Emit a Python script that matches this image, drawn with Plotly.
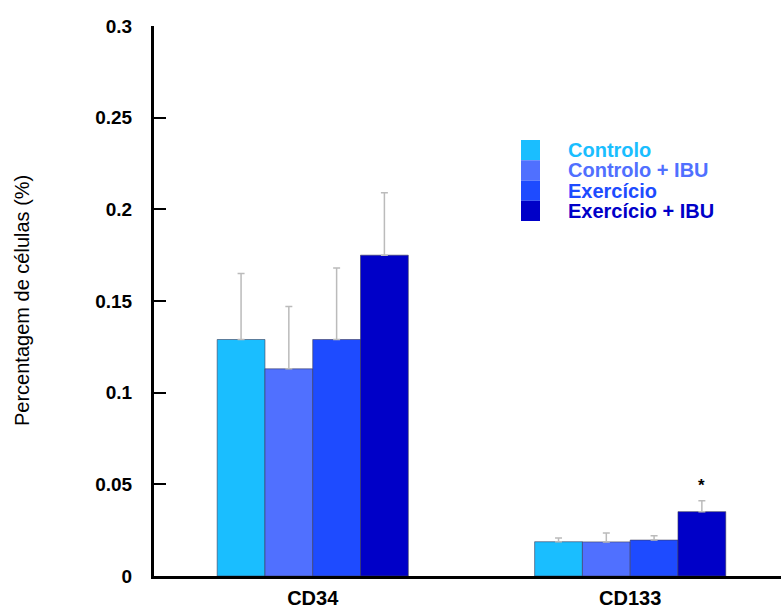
import plotly.graph_objects as go

categories = ["CD34", "CD133"]
series_names = ["Controlo", "Controlo + IBU", "Exercício", "Exercício + IBU"]
series_colors = ["#1ABEFF", "#5070FF", "#1E4BFF", "#0000C8"]
means = [
    [0.129, 0.0187],
    [0.113, 0.0186],
    [0.129, 0.0196],
    [0.175, 0.0351],
]
errors = [
    [0.036, 0.0020],
    [0.034, 0.0049],
    [0.039, 0.0024],
    [0.034, 0.0059],
]
y_ticks = [0, 0.05, 0.1, 0.15, 0.2, 0.25, 0.3]
y_ticktext = ["0", "0.05", "0.1", "0.15", "0.2", "0.25", "0.3"]
y_title = "Percentagem de células (%)"
star_label = "*"

FONT = "Liberation Sans, Arial, sans-serif"

fig = go.Figure()
xs = list(range(len(categories)))
for name, color, m, e in zip(series_names, series_colors, means, errors):
    fig.add_trace(go.Bar(
        x=xs, y=m, name=name,
        marker=dict(color=color, line=dict(color="rgba(60,60,90,0.6)", width=1)),
        error_y=dict(type="data", array=e, symmetric=False, arrayminus=[0]*len(e),
                     color="#BBBBBB", thickness=1.5, width=3.5),
        showlegend=False,
    ))

W, H = 781, 608
L, R, T, B = 154, 0, 26, 32
pw, ph = W - L - R, H - T - B
def px(x):
    return (x - L) / pw
def py(y):
    return (H - B - y) / ph

shapes = []
annotations = []
for i, (name, color) in enumerate(zip(series_names, series_colors)):
    y0 = 140 + i * 20.25
    y1 = y0 + 20.25
    shapes.append(dict(type="rect", xref="paper", yref="paper",
                       x0=px(521), x1=px(540), y0=py(y1), y1=py(y0),
                       fillcolor=color, line=dict(width=0)))
    annotations.append(dict(xref="paper", yref="paper", x=px(566), y=py((y0 + y1) / 2),
                            text=f"<b>{name}</b>", showarrow=False,
                            xanchor="left", yanchor="middle",
                            font=dict(family=FONT, size=20, color=color)))

# y-axis title
annotations.append(dict(xref="paper", yref="paper", x=px(22), y=py(301),
                        text=y_title, textangle=-90, showarrow=False,
                        xanchor="center", yanchor="middle",
                        font=dict(family=FONT, size=20, color="black")))

# significance marker over last bar of CD133
bar_w = (1 - 0.398) / len(series_names)
annotations.append(dict(xref="x", yref="y", x=1 + bar_w * 1.5,
                        y=means[3][1] + errors[3][1] + 0.002,
                        text=f"<b>{star_label}</b>", showarrow=False,
                        xanchor="center", yanchor="bottom",
                        font=dict(family=FONT, size=17, color="black")))

fig.update_layout(
    width=W, height=H,
    margin=dict(l=L, r=R, t=T, b=B, autoexpand=False),
    paper_bgcolor="white", plot_bgcolor="white",
    barmode="group", bargap=0.398, bargroupgap=0,
    shapes=shapes, annotations=annotations,
    font=dict(family=FONT, color="black"),
    xaxis=dict(
        range=[-0.5, 1.475], tickvals=xs,
        ticktext=[f"<b>{c}</b>" for c in categories],
        showline=True, linecolor="black", linewidth=3,
        ticks="", showgrid=False, zeroline=False, automargin=False,
        ticklabelstandoff=2,
        tickfont=dict(family=FONT, size=20, color="black"),
    ),
    yaxis=dict(
        range=[0, 0.3], tickvals=y_ticks,
        ticktext=[f"<b>{t}</b>" for t in y_ticktext],
        showline=True, linecolor="black", linewidth=3,
        ticks="inside", ticklen=12, tickwidth=2, tickcolor="black",
        showgrid=False, zeroline=False, automargin=False,
        ticklabelstandoff=15,
        tickfont=dict(family=FONT, size=19, color="black"),
    ),
)

fig.write_html("out.html", config={"displayModeBar": False},
               post_script="document.body.style.margin='0';")
